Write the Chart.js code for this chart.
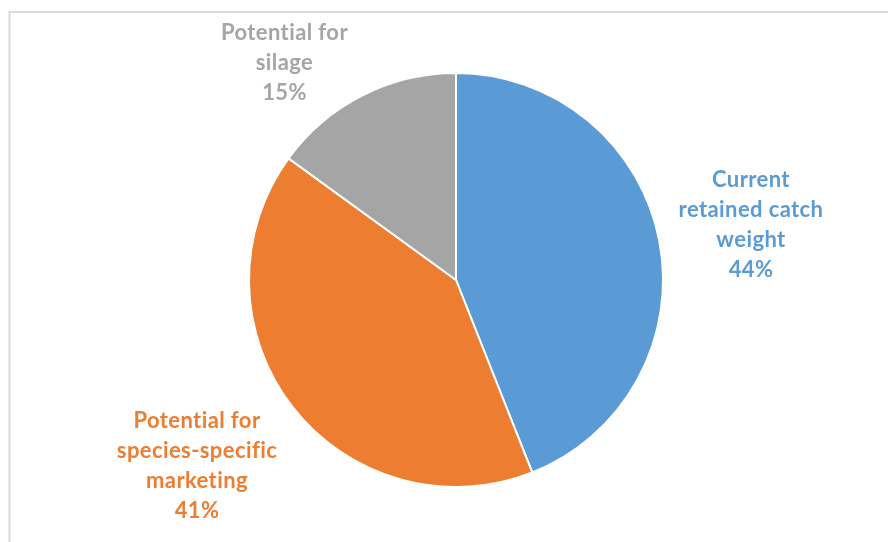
<!DOCTYPE html>
<html>
<head>
<meta charset="utf-8">
<script src="https://cdn.jsdelivr.net/npm/chart.js@4.4.1/dist/chart.umd.min.js"></script>
<style>
  html, body { margin: 0; padding: 0; background: #ffffff; }
  #wrap { width: 888px; height: 542px; position: relative; }
</style>
</head>
<body>
<div id="wrap"><canvas id="chart" width="888" height="542"></canvas></div>
<script>
// Share of catch weight by destination
const categories = [
  ["Current", "retained catch", "weight"],
  ["Potential for", "species-specific", "marketing"],
  ["Potential for", "silage"]
];
const shares = [44, 41, 15];
const sliceColors = ["#5b9bd5", "#ed7d31", "#a5a5a5"];

// Label block placement relative to the pie centre: [centre x offset, first baseline offset]
const labelOffsets = [[295, -93], [-259, 148], [-171.5, -240]];
const LINE_HEIGHT = 30;

const frame = {
  id: "frame",
  beforeDraw(chart) {
    const ctx = chart.ctx;
    ctx.save();
    ctx.fillStyle = "#ffffff";
    ctx.fillRect(0, 0, chart.width, chart.height);
    ctx.strokeStyle = "#d9d9d9";
    ctx.lineWidth = 2;
    ctx.strokeRect(9.5, 12, 1000, 1000);
    ctx.restore();
  }
};

const sliceLabels = {
  id: "sliceLabels",
  afterDatasetsDraw(chart) {
    const ctx = chart.ctx;
    const meta = chart.getDatasetMeta(0);
    const data = chart.data.datasets[0].data;
    ctx.save();
    ctx.font = "bold 22px Lato";
    ctx.letterSpacing = "0.4px"; // also keeps "ti" from forming a ligature
    ctx.textAlign = "center";
    ctx.textBaseline = "alphabetic";
    meta.data.forEach((arc, i) => {
      const lines = categories[i].concat([data[i] + "%"]);
      const [dx, dy] = labelOffsets[i];
      ctx.fillStyle = sliceColors[i];
      lines.forEach((line, k) => {
        ctx.fillText(line, arc.x + dx, arc.y + dy + k * LINE_HEIGHT);
      });
    });
    ctx.restore();
  }
};

new Chart(document.getElementById("chart"), {
  type: "pie",
  data: {
    labels: categories.map(c => c.join(" ")),
    datasets: [{
      data: shares,
      backgroundColor: sliceColors,
      borderColor: "#ffffff",
      borderWidth: 2
    }]
  },
  options: {
    responsive: false,
    animation: false,
    layout: { padding: { top: 72, bottom: 54, left: 248, right: 224 } },
    plugins: {
      legend: { display: false },
      tooltip: { enabled: false }
    }
  },
  plugins: [frame, sliceLabels]
});
</script>
</body>
</html>
